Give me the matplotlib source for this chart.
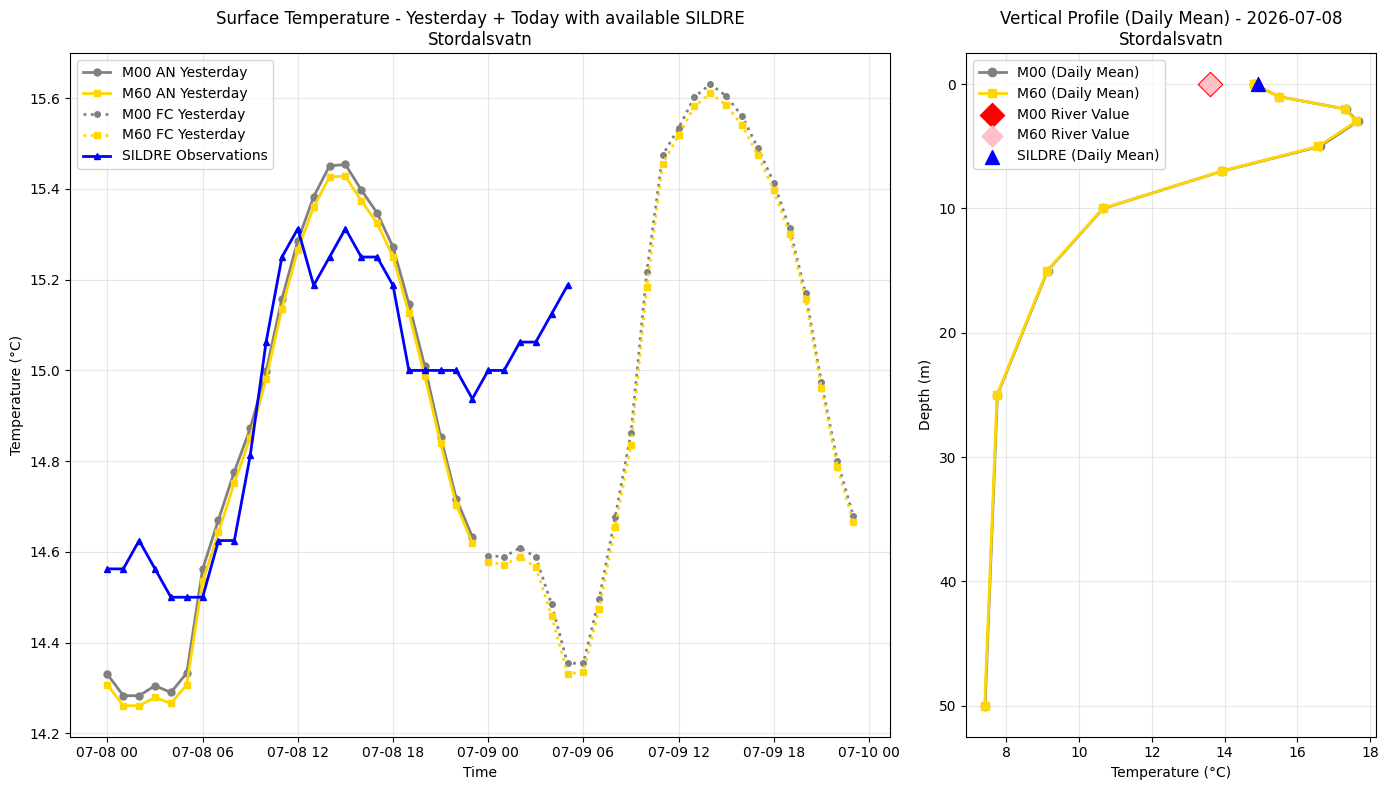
import numpy as np
import pandas as pd
import matplotlib
matplotlib.use('Agg')
from matplotlib import pyplot as plt
import matplotlib.dates as mdates

# ---- surface temperature data (hourly, 2026-07-08 00:00 onward) ----
t0 = pd.Timestamp('2026-07-08 00:00')

m00_an = [14.330, 14.283, 14.283, 14.305, 14.290, 14.333, 14.562, 14.671,
          14.777, 14.872, 14.998, 15.158, 15.286, 15.383, 15.451, 15.454,
          15.398, 15.347, 15.272, 15.147, 15.009, 14.854, 14.716, 14.633]
m60_an = [14.307, 14.261, 14.261, 14.279, 14.266, 14.307, 14.535, 14.643,
          14.752, 14.852, 14.981, 15.136, 15.266, 15.360, 15.427, 15.428,
          15.374, 15.325, 15.250, 15.127, 14.988, 14.839, 14.703, 14.620]
m00_fc = [14.592, 14.589, 14.609, 14.589, 14.484, 14.354, 14.355, 14.497,
          14.676, 14.862, 15.217, 15.475, 15.534, 15.603, 15.631, 15.605,
          15.561, 15.490, 15.414, 15.313, 15.170, 14.974, 14.801, 14.680]
m60_fc = [14.578, 14.572, 14.588, 14.567, 14.458, 14.331, 14.335, 14.475,
          14.654, 14.836, 15.184, 15.456, 15.518, 15.582, 15.611, 15.585,
          15.541, 15.474, 15.397, 15.300, 15.158, 14.962, 14.788, 14.666]
sildre_obs = [14.5625, 14.5625, 14.625, 14.5625, 14.5, 14.5, 14.5, 14.625,
              14.625, 14.8125, 15.0625, 15.25, 15.3125, 15.1875, 15.25, 15.3125,
              15.25, 15.25, 15.1875, 15.0, 15.0, 15.0, 15.0, 14.9375,
              15.0, 15.0, 15.0625, 15.0625, 15.125, 15.1875]

t_an = pd.date_range(t0, periods=len(m00_an), freq='h')
t_fc = pd.date_range(t0 + pd.Timedelta(hours=24), periods=len(m00_fc), freq='h')
t_obs = pd.date_range(t0, periods=len(sildre_obs), freq='h')

# ---- vertical profile (daily mean) ----
depths = [0, 1, 2, 3, 5, 7, 10, 15, 25, 50]
m00_prof = [14.81, 15.50, 17.33, 17.66, 16.63, 13.93, 10.66, 9.13, 7.75, 7.41]
m60_prof = [14.81, 15.50, 17.32, 17.62, 16.58, 13.92, 10.65, 9.12, 7.74, 7.40]
m00_river = 13.6
m60_river = 13.6
sildre_mean = 14.92

fig, (ax1, ax2) = plt.subplots(1, 2, figsize=(14, 8),
                               gridspec_kw={'width_ratios': [2, 1]})

# left panel
ax1.plot(t_an, m00_an, color='gray', marker='o', markersize=5, linewidth=2, label='M00 AN Yesterday')
ax1.plot(t_an, m60_an, color='gold', marker='s', markersize=5, linewidth=2, label='M60 AN Yesterday')
ax1.plot(t_fc, m00_fc, color='gray', marker='o', markersize=4, linewidth=2, linestyle=':', label='M00 FC Yesterday')
ax1.plot(t_fc, m60_fc, color='gold', marker='s', markersize=4, linewidth=2, linestyle=':', label='M60 FC Yesterday')
ax1.plot(t_obs, sildre_obs, color='blue', marker='^', markersize=5, linewidth=2, label='SILDRE Observations')

ax1.xaxis.set_major_locator(mdates.HourLocator(byhour=[0, 6, 12, 18]))
ax1.xaxis.set_major_formatter(mdates.DateFormatter('%m-%d %H'))
ax1.set_xlabel('Time')
ax1.set_ylabel('Temperature (°C)')
ax1.set_title('Surface Temperature - Yesterday + Today with available SILDRE\nStordalsvatn', fontsize=12)
ax1.grid(True, alpha=0.3)
ax1.legend(loc='upper left')

# right panel
ax2.plot(m00_prof, depths, color='gray', marker='o', markersize=6, linewidth=2, label='M00 (Daily Mean)')
ax2.plot(m60_prof, depths, color='gold', marker='s', markersize=6, linewidth=2, label='M60 (Daily Mean)')
ax2.scatter([m00_river], [0], color='red', marker='D', s=150, zorder=5, label='M00 River Value')
ax2.scatter([m60_river], [0], color='pink', marker='D', s=115, zorder=6, label='M60 River Value')
ax2.scatter([sildre_mean], [0], color='blue', marker='^', s=100, zorder=7, label='SILDRE (Daily Mean)')
ax2.invert_yaxis()
ax2.set_xlabel('Temperature (°C)')
ax2.set_ylabel('Depth (m)')
ax2.set_title('Vertical Profile (Daily Mean) - 2026-07-08\nStordalsvatn', fontsize=12)
ax2.grid(True, alpha=0.3)
ax2.legend(loc='upper left')

plt.tight_layout()
plt.savefig('out.png', dpi=100, bbox_inches='tight')
